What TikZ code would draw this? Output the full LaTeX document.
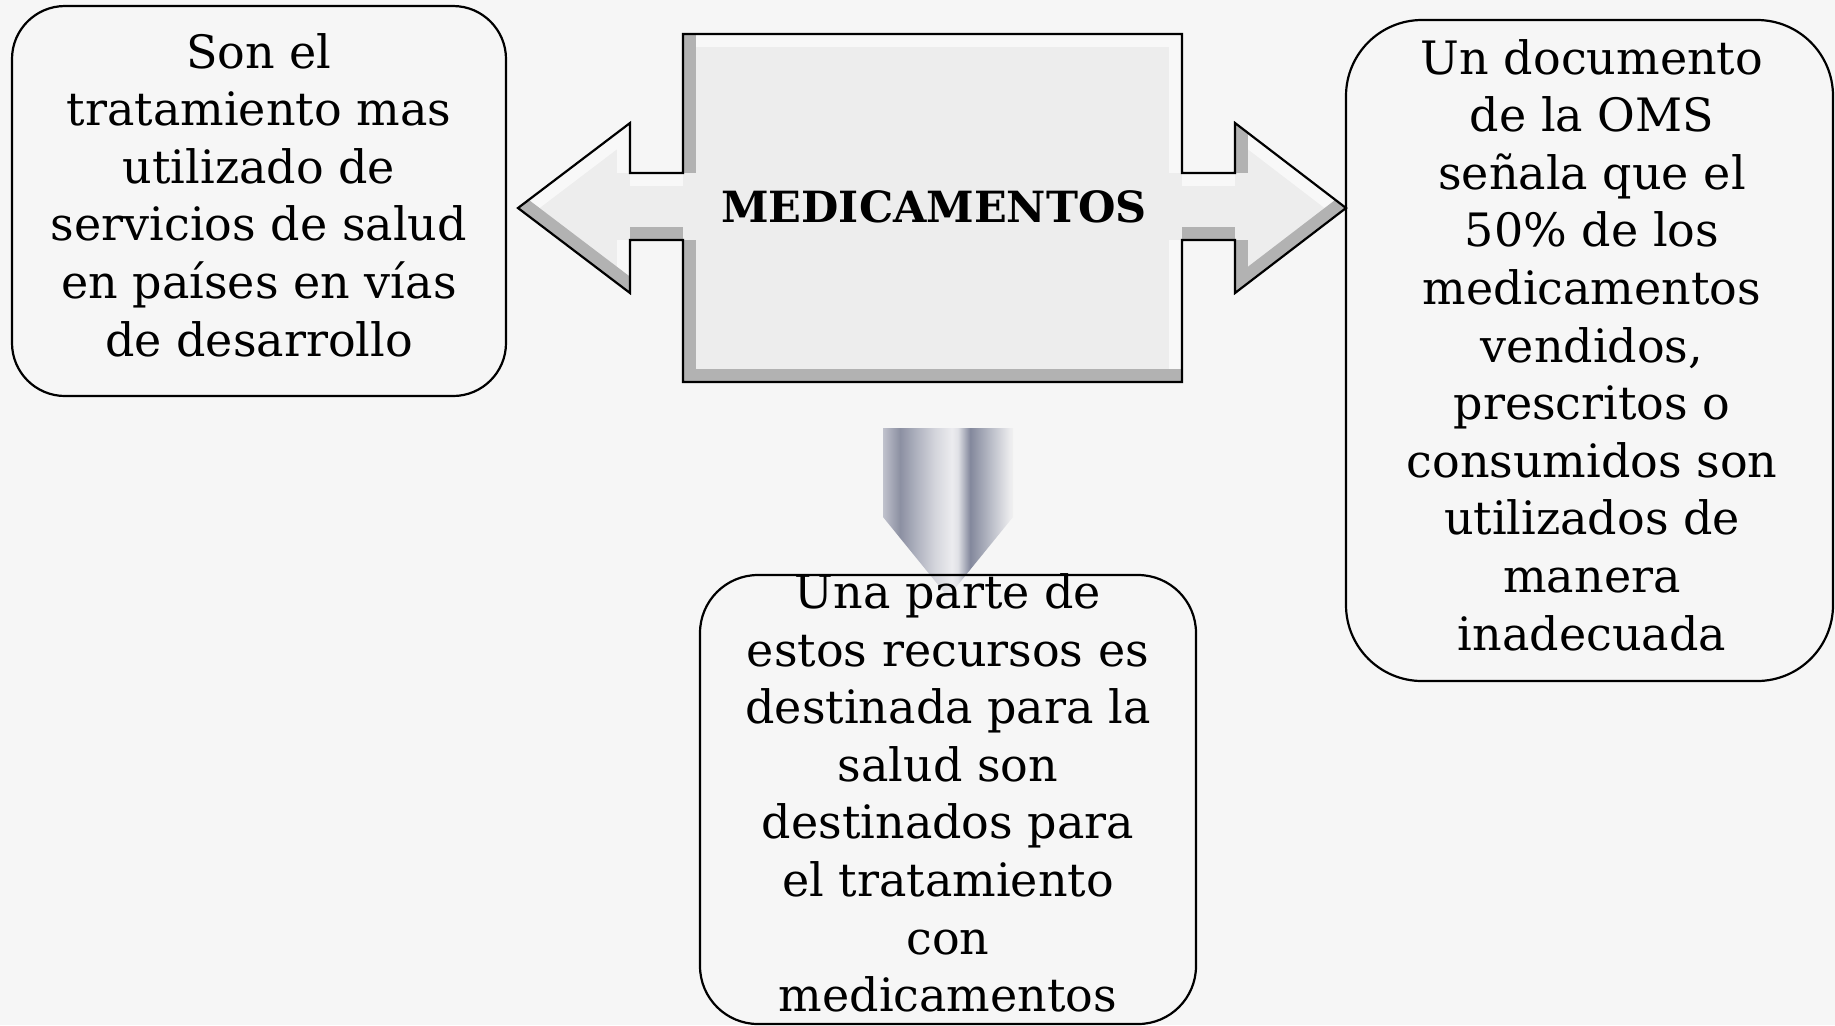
\documentclass[tikz,border=0pt]{standalone}
\usepackage{fontspec}
\setmainfont{DejaVu Serif}
\definecolor{bg}{HTML}{F6F6F6}
\definecolor{face}{HTML}{EDEDED}
\definecolor{bevlight}{HTML}{F8F8F8}
\definecolor{bevdark}{HTML}{B2B2B2}
\definecolor{mA}{HTML}{C0C2CC}
\definecolor{mB}{HTML}{8C90A2}
\definecolor{mC}{HTML}{B0B3C0}
\definecolor{mD}{HTML}{D4D5DC}
\definecolor{mE}{HTML}{ECECEF}
\definecolor{mF}{HTML}{E0E1E6}
\definecolor{mG}{HTML}{83889C}
\definecolor{mH}{HTML}{B8BBC6}
\definecolor{mI}{HTML}{ECECEE}
\definecolor{mJ}{HTML}{F0F0F0}
\pgfdeclarehorizontalshading{metal}{100bp}{color(0bp)=(mA); color(25bp)=(mA); color(31.5bp)=(mB); color(38.1bp)=(mC); color(45bp)=(mD); color(51.5bp)=(mE); color(53.8bp)=(mF); color(58.5bp)=(mG); color(66.2bp)=(mH); color(73.8bp)=(mI); color(75bp)=(mJ); color(100bp)=(mJ)}
\begin{document}
\begin{tikzpicture}[x=0.5pt,y=-0.5pt,
  box/.style={draw=black, line width=1.1pt, rectangle, inner sep=0pt},
  txt/.style={align=center, font=\fontsize{23}{28.8}\selectfont, inner sep=0pt},
  light/.style={draw=bevlight, line width=13pt},
  dark/.style={draw=bevdark, line width=13pt}]
\fill[bg] (0,0) rectangle (1835,1025);
\useasboundingbox (0,0) rectangle (1835,1025);

% central bevelled shape coordinates
\coordinate (lt) at (518,208);
\coordinate (lh1) at (630,123);
\coordinate (ls1) at (630,173);
\coordinate (rc1) at (683,173);
\coordinate (rtl) at (683,34);
\coordinate (rtr) at (1182,34);
\coordinate (rc2) at (1182,173);
\coordinate (rs1) at (1235,173);
\coordinate (rh1) at (1235,123);
\coordinate (rt) at (1346,208);
\coordinate (rh2) at (1235,293);
\coordinate (rs2) at (1235,240);
\coordinate (rc3) at (1182,240);
\coordinate (rbr) at (1182,382);
\coordinate (rbl) at (683,382);
\coordinate (rc4) at (683,240);
\coordinate (ls2) at (630,240);
\coordinate (lh2) at (630,293);

\fill[face] (lt)--(lh1)--(ls1)--(rc1)--(rtl)--(rtr)--(rc2)--(rs1)--(rh1)--(rt)--(rh2)--(rs2)--(rc3)--(rbr)--(rbl)--(rc4)--(ls2)--(lh2)--cycle;
\begin{scope}
\clip (lt)--(lh1)--(ls1)--(rc1)--(rtl)--(rtr)--(rc2)--(rs1)--(rh1)--(rt)--(rh2)--(rs2)--(rc3)--(rbr)--(rbl)--(rc4)--(ls2)--(lh2)--cycle;
\draw[light] (lt)--(lh1);
\draw[light] (lh1)--(ls1);
\draw[light] (ls1)--(rc1);
\draw[light] (rtl)--(rtr);
\draw[light] (rtr)--(rc2);
\draw[light] (rc2)--(rs1);
\draw[light] (rh1)--(rt);
\draw[light] (rc3)--(rbr);
\draw[light] (ls2)--(lh2);
\draw[dark] (rt)--(rh2);
\draw[dark] (rh2)--(rs2);
\draw[dark] (rs1)--(rh1);
\draw[dark] (rs2)--(rc3);
\draw[dark] (rbr)--(rbl);
\draw[dark] (rbl)--(rc4);
\draw[dark] (rc1)--(rtl);
\draw[dark] (rc4)--(ls2);
\draw[dark] (lh2)--(lt);
\end{scope}
\draw[line width=1.1pt, line join=miter] (lt)--(lh1)--(ls1)--(rc1)--(rtl)--(rtr)--(rc2)--(rs1)--(rh1)--(rt)--(rh2)--(rs2)--(rc3)--(rbr)--(rbl)--(rc4)--(ls2)--(lh2)--cycle;
\node[font=\fontsize{21.5}{26}\selectfont\bfseries, inner sep=0pt] (med) at (934,207) {MEDICAMENTOS};

% down arrow
\coordinate (da1) at (883,428);
\coordinate (da2) at (1013,428);
\coordinate (da3) at (1013,517);
\coordinate (dtip) at (948,597);
\coordinate (da4) at (883,517);
\shade[shading=metal] (da1)--(da2)--(da3)--(dtip)--(da4)--cycle;

% boxes
\node[box, rounded corners=26.5pt, minimum width=247pt, minimum height=195pt] (lbox) at (259,201) {};
\node[box, rounded corners=38pt, minimum width=243.5pt, minimum height=330.5pt] (rbox) at (1589.5,350.5) {};
\node[box, rounded corners=29pt, minimum width=248pt, minimum height=224.5pt] (bbox) at (948,799.5) {};

\node[txt] (ltext) at (259,195) {Son el\\tratamiento mas\\utilizado de\\servicios de salud\\en países en vías\\de desarrollo};
\node[txt] (rtext) at (1592,345) {Un documento\\de la OMS\\señala que el\\50\% de los\\medicamentos\\vendidos,\\prescritos o\\consumidos son\\utilizados de\\manera\\inadecuada};
\node[txt] (btext) at (948,793) {Una parte de\\estos recursos es\\destinada para la\\salud son\\destinados para\\el tratamiento\\con\\medicamentos};
\end{tikzpicture}
\end{document}
